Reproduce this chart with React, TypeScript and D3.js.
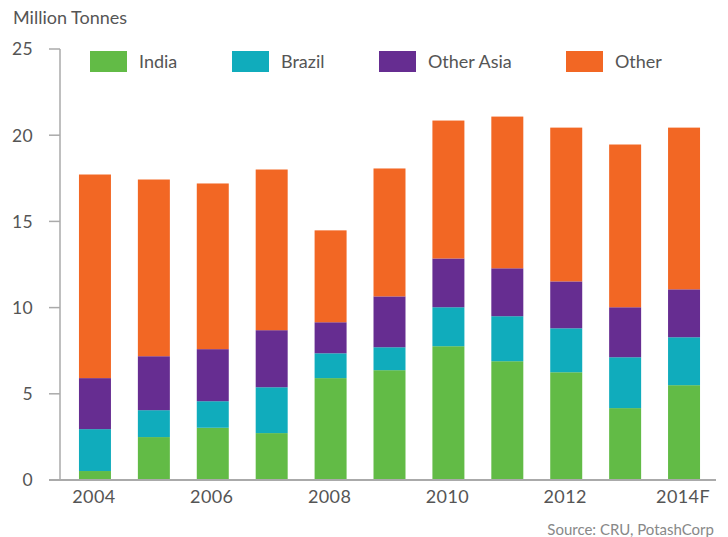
import React from "react";
import * as d3 from "d3";

const years = ["2004", "2005", "2006", "2007", "2008", "2009", "2010", "2011", "2012", "2013", "2014F"];
const xTickLabels = ["2004", "2006", "2008", "2010", "2012", "2014F"];
const india = [0.52, 2.49, 3.03, 2.72, 5.91, 6.37, 7.76, 6.89, 6.25, 4.17, 5.5];
const brazil = [2.43, 1.56, 1.54, 2.66, 1.44, 1.33, 2.26, 2.61, 2.55, 2.95, 2.78];
const otherAsia = [2.96, 3.13, 3.02, 3.31, 1.8, 2.95, 2.83, 2.78, 2.72, 2.9, 2.78];
const other = [11.81, 10.25, 9.61, 9.32, 5.33, 7.42, 8.0, 8.8, 8.92, 9.44, 9.38];
const yTicks = [0, 5, 10, 15, 20, 25];
const seriesNames = ["India", "Brazil", "Other Asia", "Other"];
const seriesColors = ["#62bb46", "#10acbc", "#662d91", "#f26724"];

const W = 728;
const H = 537;
const FONT = "Lato, 'Open Sans', sans-serif";

export default function App() {
  const x = d3.scaleBand<string>().domain(years).range([65.5, 713.5]).paddingInner(0.457).paddingOuter(0.2285);
  const y = d3.scaleLinear().domain([0, 25]).range([480, 49]);

  const rows = years.map((yr, i) => ({
    year: yr,
    India: india[i],
    Brazil: brazil[i],
    "Other Asia": otherAsia[i],
    Other: other[i],
  }));
  const stacked = d3.stack<any>().keys(seriesNames)(rows);

  const legendX = [90, 232, 379, 566];

  return (
    <div style={{ position: "fixed", left: 0, top: 0, width: W, height: H, background: "#fff" }}>
      <svg width={W} height={H} style={{ display: "block" }}>
        <text x={13} y={24} fontFamily={FONT} fontSize={18} fill="#555">Million Tonnes</text>

        {stacked.map((s, si) => (
          <g key={s.key} fill={seriesColors[si]}>
            {s.map((d, i) => (
              <rect
                key={i}
                x={x(years[i])}
                y={y(d[1])}
                width={x.bandwidth()}
                height={y(d[0]) - y(d[1])}
              />
            ))}
          </g>
        ))}

        {/* y axis */}
        <line x1={60} x2={60} y1={y(25)} y2={y(0)} stroke="#aaa" strokeWidth={1.5} />
        {yTicks.map((t) => (
          <g key={t}>
            <line x1={49} x2={60} y1={y(t)} y2={y(t)} stroke="#aaa" strokeWidth={1.5} />
            <text x={33} y={y(t)} dy="0.36em" textAnchor="end" fontFamily={FONT} fontSize={17.5} fill="#555" letterSpacing={0.3}>{t}</text>
          </g>
        ))}
        {/* x axis */}
        <line x1={49} x2={716} y1={y(0)} y2={y(0)} stroke="#aaa" strokeWidth={2} />
        {xTickLabels.map((lab) => (
          <text key={lab} x={(x(lab) as number) + x.bandwidth() / 2 - 1} y={503} textAnchor="middle" fontFamily={FONT} fontSize={18} fill="#555" letterSpacing={0.4}>{lab}</text>
        ))}

        {/* legend */}
        {seriesNames.map((n, i) => (
          <g key={n}>
            <rect x={legendX[i]} y={51} width={37} height={21} fill={seriesColors[i]} />
            <text x={legendX[i] + 49} y={61.5} dy="0.36em" fontFamily={FONT} fontSize={18} fill="#555">{n}</text>
          </g>
        ))}

        <text x={714} y={535} textAnchor="end" fontFamily={FONT} fontSize={15} fill="#888">Source: CRU, PotashCorp</text>
      </svg>
    </div>
  );
}
